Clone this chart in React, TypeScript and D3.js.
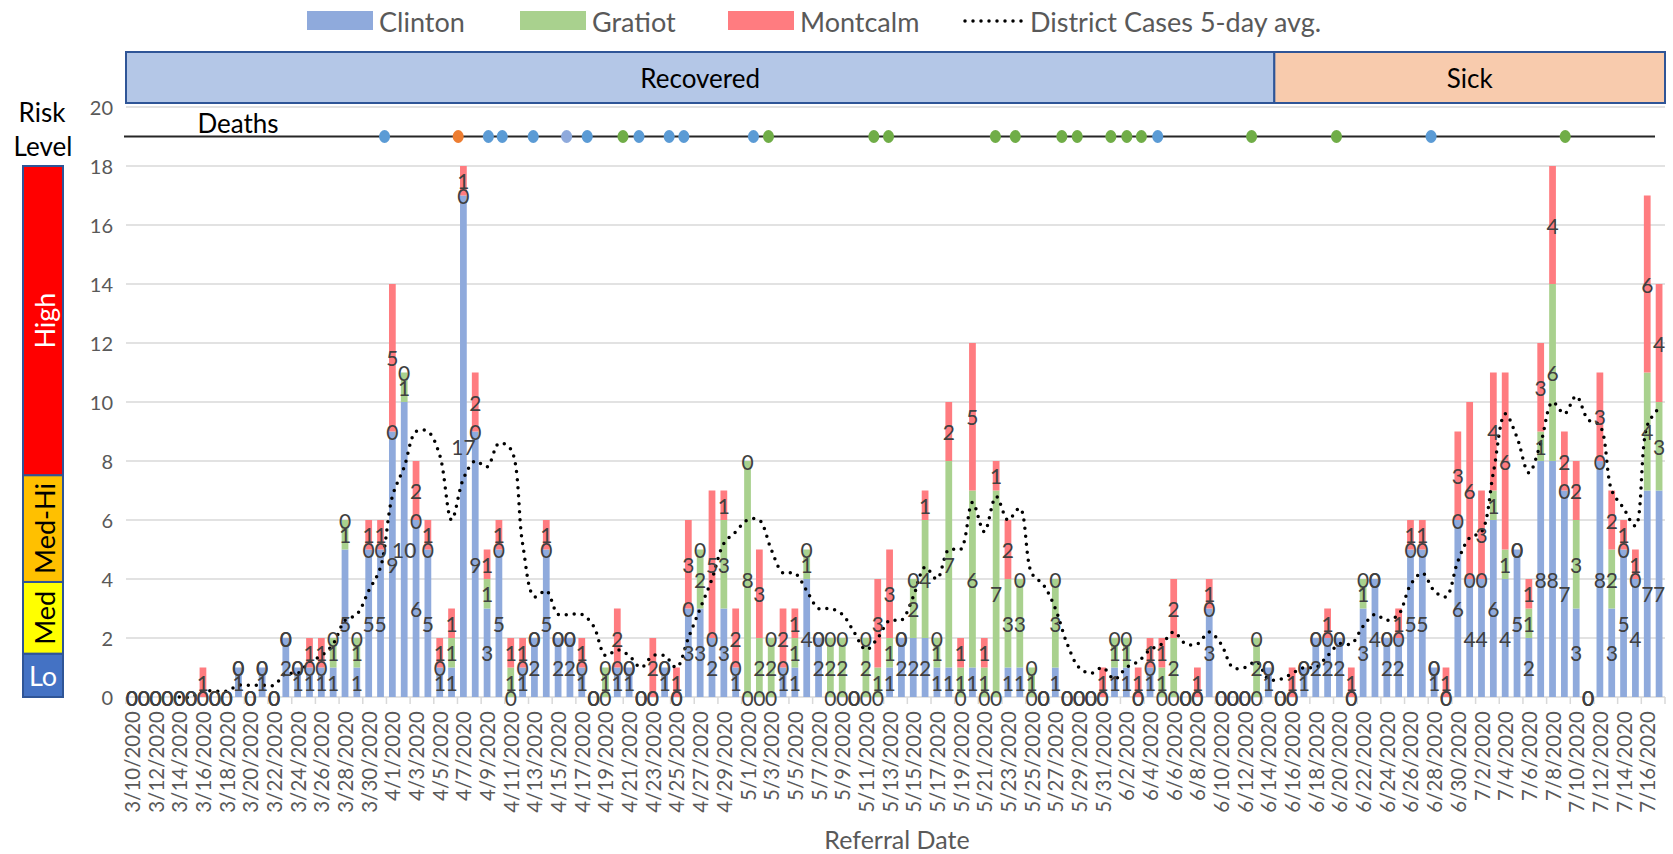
import * as d3 from "d3";

const W = 1673;
const H = 854;

// referral dates, one category per day
const days = d3.timeDay.range(new Date(2020, 2, 10), new Date(2020, 6, 18));
const dateLabels = days.map((d) => `${d.getMonth() + 1}/${d.getDate()}/2020`);

// daily referrals per county
const clinton = [
  0, 0, 0, 0, 0, 0, 0, 0, 0, 1,
  0, 1, 0, 2, 1, 1, 1, 1, 5, 1,
  5, 5, 9, 10, 6, 5, 1, 1, 17, 9,
  3, 5, 0, 1, 2, 5, 2, 2, 1, 0,
  0, 1, 1, 0, 0, 1, 0, 3, 3, 2,
  3, 1, 0, 0, 0, 1, 1, 4, 2, 0,
  0, 0, 0, 0, 1, 2, 2, 2, 1, 1,
  0, 1, 0, 0, 1, 1, 0, 0, 1, 0,
  0, 0, 0, 1, 1, 0, 1, 0, 0, 0,
  0, 3, 0, 0, 0, 0, 1, 0, 0, 1,
  2, 2, 2, 0, 3, 4, 2, 2, 5, 5,
  1, 0, 6, 4, 4, 6, 4, 5, 2, 8,
  8, 7, 3, 0, 8, 3, 5, 4, 7, 7,
];
const gratiot = [
  0, 0, 0, 0, 0, 0, 0, 0, 0, 0,
  0, 0, 0, 0, 0, 0, 0, 1, 1, 1,
  0, 0, 0, 1, 0, 0, 0, 1, 0, 0,
  1, 0, 1, 0, 0, 0, 0, 0, 0, 0,
  1, 0, 0, 0, 0, 0, 0, 0, 2, 0,
  3, 0, 8, 2, 2, 0, 1, 1, 0, 2,
  2, 0, 2, 1, 1, 0, 2, 4, 1, 7,
  1, 6, 1, 7, 3, 3, 1, 0, 3, 0,
  0, 0, 0, 1, 1, 0, 0, 1, 2, 0,
  0, 0, 0, 0, 0, 2, 0, 0, 0, 0,
  0, 0, 0, 0, 1, 0, 0, 0, 0, 0,
  0, 0, 0, 0, 0, 1, 1, 0, 1, 1,
  6, 0, 3, 0, 0, 2, 0, 0, 4, 3,
];
const montcalm = [
  0, 0, 0, 0, 0, 0, 1, 0, 0, 0,
  0, 0, 0, 0, 0, 1, 1, 0, 0, 0,
  1, 1, 5, 0, 2, 1, 1, 1, 1, 2,
  1, 1, 1, 1, 0, 1, 0, 0, 1, 0,
  0, 2, 0, 0, 2, 0, 1, 3, 0, 5,
  1, 2, 0, 3, 0, 2, 1, 0, 0, 0,
  0, 0, 0, 3, 3, 0, 0, 1, 0, 2,
  1, 5, 1, 1, 2, 0, 0, 0, 0, 0,
  0, 0, 1, 0, 0, 1, 1, 1, 2, 0,
  1, 1, 0, 0, 0, 0, 0, 0, 1, 0,
  0, 1, 0, 1, 0, 0, 0, 1, 1, 1,
  0, 1, 3, 6, 3, 4, 6, 0, 1, 3,
  4, 2, 2, 0, 3, 2, 1, 1, 6, 4,
];
// district 5-day average (dotted line)
const avg5: (number | null)[] = [
  null, null, null, null, 0, 0, 0.2, 0.2, 0.2, 0.4,
  0.4, 0.4, 0.4, 0.8, 0.8, 1.2, 1.4, 1.8, 2.6, 2.8,
  3.6, 4.4, 6.8, 7.8, 9, 9, 8.2, 6, 7.4, 8,
  7.8, 8.6, 8.4, 5.2, 3.4, 3.6, 2.8, 2.8, 2.8, 2.4,
  1.4, 1.6, 1.4, 1.0, 1.4, 1.4, 1.0, 2.0, 3.0, 4.0,
  5.2, 5.6, 6, 6, 5, 4.2, 4.2, 3.6, 3.0, 3.0,
  2.8, 2.2, 1.6, 2.0, 2.6, 2.6, 3.4, 4.4, 4.0, 5.0,
  5.0, 6.6, 5.6, 6.8, 6.0, 6.4, 4.2, 3.8, 3.0, 1.8,
  1.0, 0.8, 1.0, 0.6, 1.0, 1.2, 1.6, 1.8, 2.2, 1.8,
  1.8, 2.2, 1.8, 1.0, 1.0, 1.2, 0.6, 0.6, 0.8, 1.0,
  1.0, 1.4, 1.8, 1.8, 2.4, 2.8, 2.6, 2.8, 3.8, 4.2,
  3.6, 3.4, 4.6, 5.4, 5.6, 7.6, 9.6, 8.8, 7.6, 8.6,
  10, 9.6, 10.2, 9.4, 9.2, 7.0, 6.4, 5.8, 9.2, 9.8,
];

// deaths: position along the date axis (day index) and marker colour
const deathPos = [
  21.34, 27.56, 30.11, 31.28, 33.9, 36.72, 38.46, 41.48, 42.83, 45.38,
  46.62, 52.5, 53.77, 62.67, 63.91, 72.94, 74.62, 78.55, 79.85, 82.69,
  84.04, 85.27, 86.65, 94.58, 101.75, 109.74, 121.07,
];
const deathColor = [
  "#5b9bd5", "#ed7d31", "#5b9bd5", "#5b9bd5", "#5b9bd5", "#8faadc", "#5b9bd5", "#70ad47", "#5b9bd5", "#5b9bd5",
  "#5b9bd5", "#5b9bd5", "#70ad47", "#70ad47", "#70ad47", "#70ad47", "#70ad47", "#70ad47", "#70ad47", "#70ad47",
  "#70ad47", "#70ad47", "#5b9bd5", "#70ad47", "#70ad47", "#5b9bd5", "#70ad47",
];

const riskBands = [
  { label: "Lo", from: 0, to: 1.47, fill: "#4472c4", ink: "#ffffff", rotate: false },
  { label: "Med", from: 1.47, to: 3.9, fill: "#ffff00", ink: "#000000", rotate: true },
  { label: "Med-Hi", from: 3.9, to: 7.52, fill: "#ffc000", ink: "#000000", rotate: true },
  { label: "High", from: 7.52, to: 18, fill: "#ff0000", ink: "#ffffff", rotate: true },
];

// case status header, in day indexes
const statusSpans = [
  { label: "Recovered", from: 0, to: 97, fill: "#b4c7e7" },
  { label: "Sick", from: 97, to: 130, fill: "#f8cbad" },
];

const series = [
  { key: "Clinton", values: clinton, color: "#8faadc" },
  { key: "Gratiot", values: gratiot, color: "#a9d18e" },
  { key: "Montcalm", values: montcalm, color: "#ff7c80" },
];

const FONT = "Lato, 'Open Sans', sans-serif";

export default function App() {
  const left = 126;
  const right = 1665;
  const x = d3
    .scaleBand<number>()
    .domain(d3.range(days.length))
    .range([left, right])
    .paddingInner(0.43)
    .paddingOuter(0.215);
  const xPos = d3.scaleLinear().domain([-0.5, days.length - 0.5]).range([left, right]);
  const y = d3.scaleLinear().domain([0, 20]).range([697, 107]);
  const bw = x.bandwidth();
  const cx = (i: number) => x(i)! + bw / 2;

  const rows = days.map((_, i) => {
    const r: Record<string, number> = { i };
    series.forEach((s) => (r[s.key] = s.values[i]));
    return r;
  });
  const stacked = d3.stack<Record<string, number>>().keys(series.map((s) => s.key))(rows);

  const line = d3
    .line<number | null>()
    .defined((d) => d !== null)
    .x((_, i) => cx(i))
    .y((d) => y(d as number))
    .curve(d3.curveCatmullRom.alpha(0.5));

  const yTicks = d3.range(0, 21, 2);
  const step = x.step();

  return (
    <svg width={W} height={H} style={{ position: "absolute", left: 0, top: 0, background: "#fff" }} fontFamily={FONT}>
      {/* legend */}
      <g fontSize={27} fill="#595959">
        {series.map((s, k) => {
          const lx = [307, 520, 728][k];
          return (
            <g key={s.key}>
              <rect x={lx} y={11} width={66} height={19} fill={s.color} />
              <text x={lx + 72} y={21} dominantBaseline="central">{s.key}</text>
            </g>
          );
        })}
        <line x1={965} x2={1022} y1={21} y2={21} stroke="#000" strokeWidth={3.5} strokeLinecap="round" strokeDasharray="0 8" />
        <text x={1030} y={21} dominantBaseline="central">District Cases 5-day avg.</text>
      </g>

      {/* status header */}
      {statusSpans.map((s) => (
        <g key={s.label}>
          <rect x={xPos(s.from - 0.5)} y={52} width={xPos(s.to - 0.5) - xPos(s.from - 0.5)} height={51}
            fill={s.fill} stroke="#2f5597" strokeWidth={2} />
          <text x={(xPos(s.from - 0.5) + xPos(s.to - 0.5)) / 2} y={78} textAnchor="middle" dominantBaseline="central"
            fontSize={26} fill="#000">{s.label}</text>
        </g>
      ))}

      {/* gridlines */}
      {yTicks.map((t) => (
        <line key={t} x1={left} x2={right} y1={y(t)} y2={y(t)} stroke="#d9d9d9" strokeWidth={1.5} />
      ))}
      {yTicks.map((t) => (
        <text key={"t" + t} x={113} y={y(t)} textAnchor="end" dominantBaseline="central" fontSize={20} fill="#595959">{t}</text>
      ))}

      {/* x ticks every two days */}
      {d3.range(0, days.length + 1, 2).map((k) => (
        <line key={"xt" + k} x1={left + k * step} x2={left + k * step} y1={y(0)} y2={y(0) + 7} stroke="#d9d9d9" strokeWidth={1.5} />
      ))}
      {dateLabels.map((lab, i) =>
        i % 2 === 0 ? (
          <text key={"xl" + i} transform={`translate(${cx(i)},711) rotate(-90)`} textAnchor="end" dominantBaseline="central"
            fontSize={20.5} fill="#595959">{lab}</text>
        ) : null
      )}
      <text x={897} y={839} textAnchor="middle" dominantBaseline="central" fontSize={25} fill="#595959">Referral Date</text>

      {/* risk level scale */}
      <text x={42} y={112} textAnchor="middle" dominantBaseline="central" fontSize={26} fill="#000">Risk</text>
      <text x={43} y={146} textAnchor="middle" dominantBaseline="central" fontSize={26} fill="#000">Level</text>
      {riskBands.map((b) => {
        const y0 = y(b.to);
        const y1 = y(b.from);
        const mid = (y0 + y1) / 2;
        return (
          <g key={b.label}>
            <rect x={23} y={y0} width={40} height={y1 - y0} fill={b.fill} stroke="#2f5597" strokeWidth={2} />
            <text transform={b.rotate ? `translate(44,${mid}) rotate(-90)` : `translate(43,${mid})`} textAnchor="middle"
              dominantBaseline="central" fontSize={27} fill={b.ink}>{b.label}</text>
          </g>
        );
      })}

      {/* deaths row */}
      <line x1={124} x2={1655} y1={y(19)} y2={y(19)} stroke="#262626" strokeWidth={2} />
      <text x={238} y={123} textAnchor="middle" dominantBaseline="central" fontSize={26} fill="#000">Deaths</text>
      {deathPos.map((p, k) => (
        <ellipse key={"d" + k} cx={xPos(p)} cy={y(19)} rx={5.5} ry={6.5} fill={deathColor[k]} />
      ))}

      {/* stacked bars */}
      {stacked.map((layer, k) => (
        <g key={layer.key} fill={series[k].color}>
          {layer.map((d, i) =>
            d[1] > d[0] ? <rect key={i} x={x(i)} y={y(d[1])} width={bw} height={y(d[0]) - y(d[1])} /> : null
          )}
        </g>
      ))}

      {/* 5-day average */}
      <path d={line(avg5) || ""} fill="none" stroke="#000" strokeWidth={3.5} strokeLinecap="round" strokeDasharray="0 8" />

      {/* data labels */}
      <g fontSize={21} fill="#404040" textAnchor="middle">
        {stacked.map((layer) =>
          layer.map((d, i) => (
            <text key={layer.key + i} x={cx(i)} y={y((d[0] + d[1]) / 2)} dominantBaseline="central">
              {d[1] - d[0]}
            </text>
          ))
        )}
      </g>
    </svg>
  );
}
